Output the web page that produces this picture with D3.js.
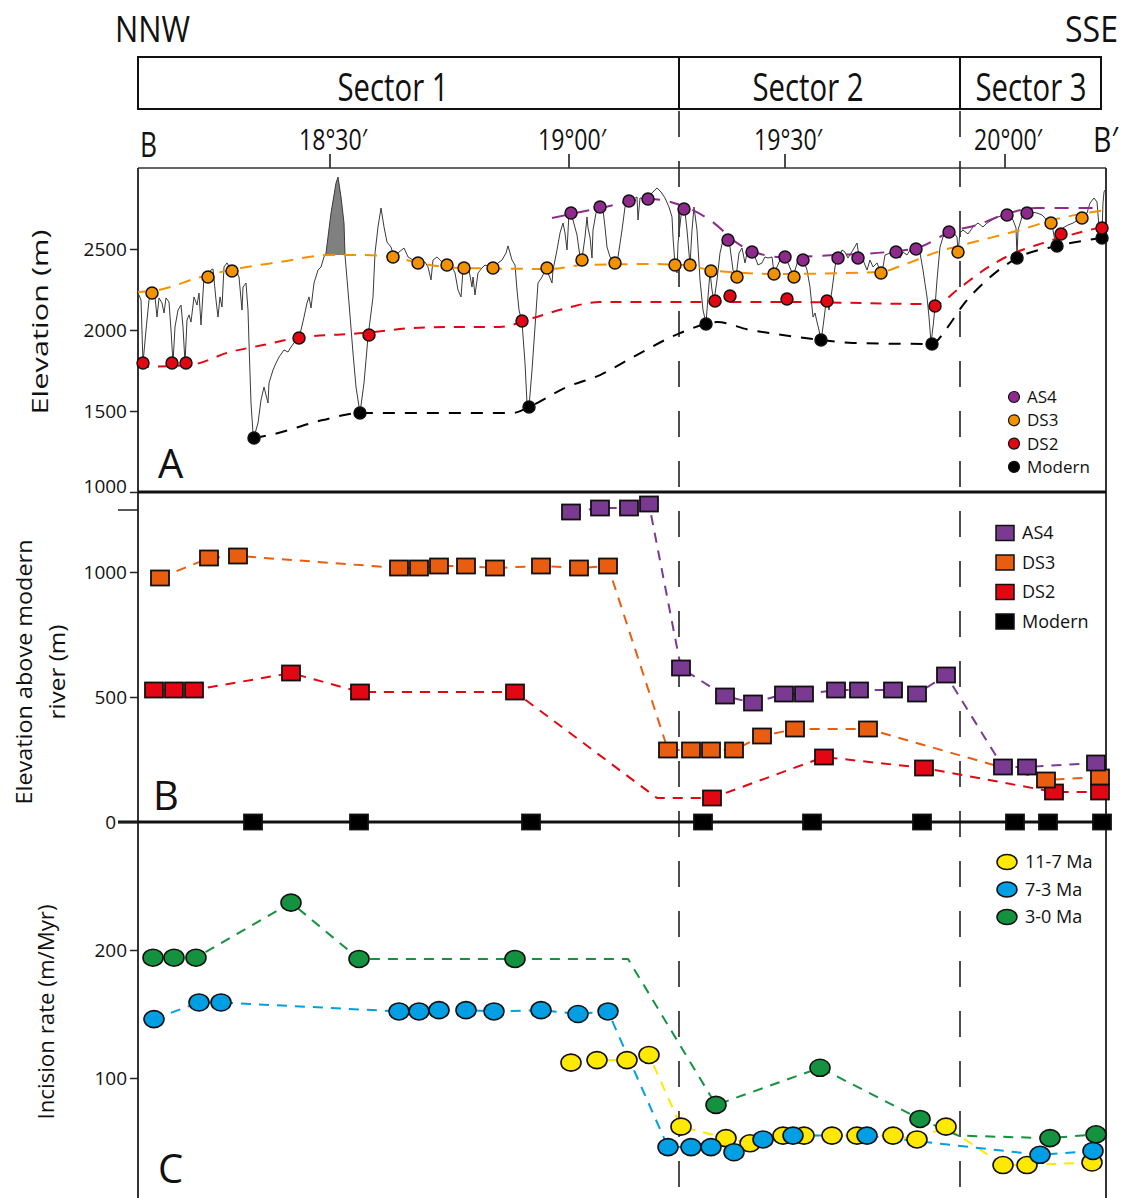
<!DOCTYPE html>
<html>
<head>
<meta charset="utf-8">
<script src="https://cdn.jsdelivr.net/npm/d3@7"></script>
<style>
  body { margin: 0; background: #fff; }
  svg { display: block; }
</style>
</head>
<body>
<div id="chart"></div>
<script>
// ---- data (distance along profile in km, values in m or m/Myr) ----
var sectorNames = ["Sector 1", "Sector 2", "Sector 3"];
var sectorBounds = [0, 135.25, 205.5, 240.75];
var lonTicks = [48, 107.75, 161.75, 216.75];
var lonLabels = ["18°30′", "19°00′", "19°30′", "20°00′"];

// panel A: topographic profile
var profile = [[0.25,2216],[0.75,2185],[1.25,1796],[2,2000],[2.75,2185],[3.5,2228],[4.25,2204],[4.75,2080],[5.25,2198],[6,2167],[6.5,2105],[7,2198],[7.75,2173],[8.25,2000],[8.75,1796],[9.25,2019],[10,2123],[10.75,2154],[11.25,2019],[11.75,1796],[12.25,2062],[12.75,2093],[13.25,2049],[14,2204],[14.75,2154],[15.25,2228],[15.75,2031],[16.5,2327],[17.5,2340],[18.25,2370],[18.75,2377],[19.5,2185],[20,2080],[20.5,2204],[21,2142],[21.5,2389],[22.25,2414],[23.25,2370],[24.5,2370],[25.25,2327],[26,2123],[26.25,2265],[27,2290],[27.5,2123],[27.75,1920],[28.25,1549],[28.75,1364],[29,1340],[30,1426],[30.75,1568],[31.5,1648],[32.5,1549],[32.75,1673],[33.75,1753],[34.5,1796],[35.25,1833],[36.5,1877],[37.5,1864],[38.25,1895],[39,1920],[40,1951],[40.75,2000],[41.5,2080],[42.25,2167],[42.75,2204],[43.25,2136],[44,2290],[45,2370],[45.75,2389],[46.5,2451],[47,2475],[48.25,2722],[49.5,2907],[50,2944],[50.75,2821],[51.5,2660],[51.75,2463],[52.75,2167],[53.75,1858],[54.5,1648],[55.5,1488],[56.5,1673],[57.5,1957],[58.75,2204],[59.25,2475],[60,2636],[60.75,2753],[61.5,2636],[62.25,2543],[63.25,2512],[64,2451],[65.25,2481],[66.5,2506],[67.5,2451],[68.75,2432],[70,2414],[71.75,2420],[72.5,2389],[73.25,2309],[73.75,2432],[74.75,2451],[76,2420],[77.25,2395],[78.5,2389],[79.25,2352],[80,2247],[80.75,2204],[81.25,2370],[82,2358],[82.75,2370],[83.5,2265],[83.75,2327],[84.25,2216],[85,2352],[86,2383],[86.75,2401],[88.75,2383],[90,2414],[91,2432],[92,2475],[92.5,2519],[93.5,2432],[94.25,2401],[94.75,2247],[95.25,2123],[96,2049],[96.75,1796],[97.25,1549],[97.75,1525],[98.5,1753],[99.25,2019],[100,2290],[101,2327],[102,2383],[102.5,2352],[103.5,2290],[103.75,2370],[104.75,2494],[105.5,2599],[106.25,2660],[106.75,2599],[107.25,2494],[107.75,2722],[108.75,2679],[109.75,2586],[110.5,2451],[111,2438],[111.75,2574],[112.25,2698],[112.5,2630],[113,2574],[113.5,2444],[113.75,2617],[114.5,2722],[115.25,2759],[116.25,2741],[116.75,2636],[117.25,2512],[118,2451],[119,2420],[120,2451],[121,2617],[121.75,2759],[122.5,2790],[123.5,2802],[124.75,2821],[125,2679],[125.5,2815],[127.25,2809],[128.5,2846],[129.75,2877],[130.75,2852],[131.75,2815],[132.75,2759],[133.5,2698],[133.75,2574],[134.25,2401],[134.75,2352],[135,2537],[136,2759],[136.5,2784],[137.25,2617],[138,2401],[138.5,2617],[139,2759],[139.75,2617],[140.5,2309],[141.25,2123],[142,2043],[142.5,2204],[143,2358],[143.5,2247],[144,2179],[144.75,2309],[145.5,2475],[146.25,2556],[147.25,2556],[148,2512],[148.75,2370],[149.5,2327],[150.25,2475],[151,2506],[151.75,2414],[152.25,2475],[153,2494],[153.5,2488],[154.25,2451],[155,2401],[156,2414],[156.75,2451],[157.5,2444],[158.5,2451],[159,2352],[159.75,2389],[160.5,2432],[161.25,2463],[161.75,2451],[162.5,2414],[163.25,2370],[163.75,2333],[164.5,2389],[165,2432],[166.25,2438],[167.25,2370],[168,2265],[168.75,2080],[169.25,2105],[169.75,2049],[170.25,2000],[170.75,1932],[171.25,2019],[172,2167],[172.25,2185],[172.75,2123],[173.5,2247],[174.25,2389],[174.75,2463],[175.25,2451],[176,2494],[176.75,2481],[177.5,2444],[178.75,2494],[179.75,2537],[180.25,2451],[181.25,2432],[182.25,2370],[183,2432],[183.75,2389],[184.75,2414],[185.75,2352],[186.25,2389],[186.75,2463],[188,2475],[189.5,2488],[190.5,2444],[191.25,2481],[192.25,2463],[193,2494],[194.5,2506],[195.5,2475],[196.25,2370],[197.25,2204],[197.75,2080],[198.25,1920],[198.75,2019],[199.25,2142],[199.75,2309],[200.5,2512],[201.25,2574],[202.5,2605],[203.75,2605],[204.75,2574],[205,2481],[205.5,2599],[206.25,2617],[207.5,2593],[208.75,2636],[210,2660],[211.25,2636],[212.25,2660],[213.5,2679],[215,2698],[217.25,2716],[218,2698],[218.75,2679],[219.5,2630],[219.75,2451],[220,2617],[221,2698],[222.25,2728],[223.5,2728],[224.75,2722],[226,2710],[226.75,2691],[227.5,2660],[228.25,2660],[228.75,2617],[229.5,2512],[230.5,2599],[231.25,2630],[232.5,2648],[233.75,2660],[235,2679],[236,2691],[237.25,2722],[238,2784],[239,2815],[239.75,2790],[240.25,2636],[241,2605],[241.25,2784],[241.5,2852],[241.75,2864]];

// panel A: terrace / river elevations (m)
var as4A = [[108.25,2722],[115.5,2759],[122.75,2796],[127.5,2809],[136.5,2747],[147.5,2556],[153.5,2481],[161.75,2451],[166.25,2432],[175,2444],[180,2444],[189.5,2481],[194.5,2500],[202.75,2605],[217.25,2710],[222.25,2722]];
var ds3A = [[3.5,2228],[17.5,2327],[23.5,2364],[63.75,2451],[70,2414],[77.25,2401],[81.5,2383],[88.75,2383],[102.25,2383],[111,2432],[119.25,2414],[134.25,2401],[138,2401],[143.25,2364],[149.75,2327],[159,2346],[164,2327],[185.75,2352],[205,2481],[228.25,2660],[236,2691]];
var ds2A = [[1.25,1796],[8.5,1796],[12,1796],[40.25,1951],[57.75,1969],[96,2056],[144.25,2179],[148,2210],[162.25,2191],[172.25,2179],[199.25,2148],[230.75,2593],[241,2630]];
var modernA = [[29,1333],[55.5,1488],[97.75,1525],[142,2037],[170.75,1938],[198.5,1914],[219.75,2444],[229.75,2519],[241,2568]];

// panel A: interpolated surfaces
var as4TrendA = [[103.5,2691],[115.5,2753],[128,2809],[135.5,2772],[143,2679],[150.5,2525],[160.5,2451],[174.75,2463],[187.25,2481],[195.5,2512],[203,2605],[209.75,2648],[216.25,2710],[224.75,2753],[241.25,2753]];
var ds3TrendA = [[0,2235],[6.25,2253],[14.75,2321],[23,2370],[35.5,2420],[48,2463],[56.25,2463],[64.75,2444],[73,2401],[80.5,2383],[103,2377],[111.25,2401],[128,2407],[136.25,2401],[144.75,2364],[160.5,2346],[185.5,2358],[191.25,2401],[199.75,2481],[208,2537],[220.5,2617],[228.75,2679],[242,2741]];
var ds2TrendA = [[0,1772],[13,1784],[23,1864],[31.25,1907],[39.75,1951],[56.25,1981],[68.75,2012],[80.5,2019],[90.5,2019],[98.75,2074],[107.25,2136],[115.5,2173],[128,2173],[160.5,2173],[199.75,2160],[204.75,2247],[212.25,2383],[218,2463],[224.75,2525],[233,2586],[242,2642]];
var modernTrendA = [[29,1333],[33,1352],[46.25,1444],[55.5,1488],[80.5,1488],[93.75,1488],[97.75,1525],[107.25,1648],[115.5,1722],[123.75,1833],[135.5,1981],[142,2037],[144.75,2049],[153,2000],[158,1981],[170.75,1938],[178.75,1920],[198.5,1914],[202.25,2012],[206.25,2154],[212.25,2309],[219.75,2444],[229.75,2519],[241,2568]];

// panel B: elevation above modern river (m); third value 0 = line knot only
var as4B = [[108.25,1240,1],[115.5,1256,1],[122.75,1256,1],[127.75,1272,1],[135.75,616,1],[146.75,504,1],[153.75,476,1],[161.5,512,1],[166.5,512,1],[174.5,528,1],[180.25,528,1],[188.75,528,1],[194.75,512,1],[202,588,1],[216.25,220,1],[222.25,220,1],[239.5,236,1]];
var ds3B = [[5.5,976,1],[17.75,1056,1],[25,1064,1],[65.25,1016,1],[70.25,1016,1],[75.25,1024,1],[82,1024,1],[89.25,1016,1],[100.75,1024,1],[110.25,1016,1],[117.5,1024,1],[132.5,288,1],[138.25,288,1],[143.25,288,1],[149,288,1],[156,344,1],[164.25,372,1],[182.5,372,1],[227,168,1],[240.5,180,1]];
var ds2B = [[4,528,1],[9,528,1],[14,528,1],[38.25,596,1],[55.5,520,1],[94.25,520,1],[129.75,96,0],[143.5,96,1],[171.5,260,1],[196.5,216,1],[229,120,1],[240.5,120,1]];
var modernB = [28.75, 55.25, 98.25, 141.25, 168.5, 196, 219.25, 227.5, 241];

// panel C: incision rate (m/Myr)
var rate11to7 = [[108.25,112,1],[114.75,114,1],[122.25,114,1],[127.75,118,1],[135.75,62,1],[147,53,1],[153,49,1],[161.25,55,1],[166.5,55,1],[173.5,55,1],[179.75,55,1],[188.75,55,1],[194.75,52,1],[202,62,1],[216.25,32,1],[222.25,32,1],[238.5,34,1]];
var rate7to3 = [[4,146,1],[15.25,159,1],[20.75,159,1],[65.25,152,1],[70.25,152,1],[75.25,153,1],[82,153,1],[89,152,1],[100.75,153,1],[110,150,1],[117.5,152,1],[132.5,46,1],[138.25,46,1],[143.25,46,1],[149,42,1],[156.25,52,1],[163.75,55,1],[182.25,55,1],[225.5,40,1],[238.75,43,1]];
var rate3to0 = [[3.75,194,1],[9,194,1],[14.5,194,1],[38.25,237,1],[55.25,193,1],[94.25,193,1],[122.5,193,0],[144.5,79,1],[170.5,108,1],[195.5,68,1],[205,55,0],[228,53,1],[239.5,56,1]];

var ticksA = [1000, 1500, 2000, 2500];
var ticksB = [0, 500, 1000, 1250];
var ticksC = [100, 200];

// ---- layout ----
var FONT = "'Open Sans', 'Noto Sans', sans-serif";
var width = 1125, height = 1198;

var svg = d3.select("#chart")
    .append("svg")
    .attr("width", width)
    .attr("height", height)
    .style("font-family", FONT);

var x = d3.scaleLinear().domain([0, 242]).range([138, 1106]);
var yA = d3.scaleLinear().domain([1000, 3000]).range([492, 168]);
var yB = d3.scaleLinear().domain([0, 1320]).range([822, 492]);
var yC = d3.scaleLinear().domain([0, 300]).range([1206, 822]);

var col = {
    as4A: "#8e2a8c", ds3A: "#f39200", ds2A: "#e30613", modern: "#000",
    as4B: "#7b3a92", ds3B: "#e85d0f", ds2B: "#e30613",
    yellow: "#ffe900", blue: "#009fe3", green: "#15923f"
};

// ---- header ----
function stretchText(txt, cx, y, len, size, anchor) {
    svg.append("text")
        .attr("x", cx).attr("y", y)
        .attr("text-anchor", anchor || "middle")
        .attr("font-size", size)
        .attr("textLength", len)
        .attr("lengthAdjust", "spacingAndGlyphs")
        .attr("fill", "#111")
        .text(txt);
}
stretchText("NNW", 115, 42, 75, 36, "start");
stretchText("SSE", 1118, 42, 53, 36, "end");

svg.append("rect")
    .attr("x", x(sectorBounds[0])).attr("y", 57)
    .attr("width", x(sectorBounds[3]) - x(sectorBounds[0])).attr("height", 52)
    .attr("fill", "none").attr("stroke", "#111").attr("stroke-width", 2);
sectorBounds.slice(1, 3).forEach(function (b) {
    svg.append("line").attr("x1", x(b)).attr("x2", x(b)).attr("y1", 57).attr("y2", 109)
        .attr("stroke", "#111").attr("stroke-width", 2);
});
var sectorCenters = [63.75, 167.5, 223.25];
sectorNames.forEach(function (s, i) {
    stretchText(s, x(sectorCenters[i]), 101, 111, 38);
});

// longitude labels
stretchText("B", 140, 157, 17, 34, "start");
stretchText("B′", 1118, 152, 25, 34, "end");
lonTicks.forEach(function (t, i) {
    stretchText(lonLabels[i], x(t) + 3, 150, 68, 30);
    svg.append("line").attr("x1", x(t)).attr("x2", x(t)).attr("y1", 154).attr("y2", 168)
        .attr("stroke", "#111").attr("stroke-width", 1.5);
});

// ---- frames ----
svg.append("line").attr("x1", x(0)).attr("x2", x(242)).attr("y1", 168).attr("y2", 168)
    .attr("stroke", "#333").attr("stroke-width", 1.5);
svg.append("line").attr("x1", x(0)).attr("x2", x(0)).attr("y1", 168).attr("y2", height)
    .attr("stroke", "#333").attr("stroke-width", 2);
svg.append("line").attr("x1", x(242)).attr("x2", x(242)).attr("y1", 168).attr("y2", height)
    .attr("stroke", "#333").attr("stroke-width", 2);
svg.append("line").attr("x1", x(0)).attr("x2", x(242)).attr("y1", yA(1000)).attr("y2", yA(1000))
    .attr("stroke", "#111").attr("stroke-width", 3);

// sector dividers
sectorBounds.slice(1, 3).forEach(function (b) {
    svg.append("line").attr("x1", x(b)).attr("x2", x(b)).attr("y1", 111).attr("y2", height)
        .attr("stroke", "#222").attr("stroke-width", 1.6)
        .attr("stroke-dasharray", "26,24");
});

// ---- panel A ----
function trendAt(nodes, k) {
    var i = Math.max(1, Math.min(nodes.length - 1, d3.bisectLeft(nodes.map(function (n) { return n[0]; }), k)));
    var a = nodes[i - 1], b = nodes[i];
    return a[1] + (b[1] - a[1]) * (k - a[0]) / (b[0] - a[0]);
}

var peak = profile.filter(function (p) { return p[0] >= 47 && p[0] <= 51.75; });
svg.append("path")
    .datum(peak)
    .attr("fill", "#808080")
    .attr("d", d3.area()
        .x(function (d) { return x(d[0]); })
        .y0(function (d) { return yA(trendAt(ds3TrendA, d[0])); })
        .y1(function (d) { return yA(d[1]); }));

svg.append("path")
    .datum(profile)
    .attr("fill", "none").attr("stroke", "#3a3a3a").attr("stroke-width", 1)
    .attr("d", d3.line().x(function (d) { return x(d[0]); }).y(function (d) { return yA(d[1]); }));

var trendLine = d3.line()
    .curve(d3.curveMonotoneX)
    .x(function (d) { return x(d[0]); })
    .y(function (d) { return yA(d[1]); });

[[modernTrendA, col.modern, "12,10"], [ds2TrendA, col.ds2A, "11,9"],
 [ds3TrendA, col.ds3A, "12,9"], [as4TrendA, col.as4A, "14,10"]].forEach(function (t) {
    svg.append("path").datum(t[0])
        .attr("fill", "none").attr("stroke", t[1]).attr("stroke-width", 2)
        .attr("stroke-dasharray", t[2]).attr("d", trendLine);
});

[[modernA, col.modern], [ds2A, col.ds2A], [ds3A, col.ds3A], [as4A, col.as4A]].forEach(function (s) {
    svg.append("g").selectAll("circle").data(s[0]).enter().append("circle")
        .attr("cx", function (d) { return x(d[0]); })
        .attr("cy", function (d) { return yA(d[1]); })
        .attr("r", 6)
        .attr("fill", s[1]).attr("stroke", "#111").attr("stroke-width", 1.5);
});

// legend A
var legA = [["AS4", col.as4A], ["DS3", col.ds3A], ["DS2", col.ds2A], ["Modern", col.modern]];
legA.forEach(function (l, i) {
    var yy = 397 + i * 23.3;
    svg.append("circle").attr("cx", 1014).attr("cy", yy).attr("r", 5.5)
        .attr("fill", l[1]).attr("stroke", "#111").attr("stroke-width", 1.2);
    svg.append("text").attr("x", 1027).attr("y", yy).attr("dy", "0.35em")
        .attr("font-size", 17).attr("fill", "#111").text(l[0]);
});

// ---- panel B ----
svg.append("line").attr("x1", x(0) - 20).attr("x2", x(242)).attr("y1", yB(0)).attr("y2", yB(0))
    .attr("stroke", "#111").attr("stroke-width", 3);

var lineB = d3.line()
    .x(function (d) { return x(d[0]); })
    .y(function (d) { return yB(d[1]); });

[[ds2B, col.ds2B], [ds3B, col.ds3B], [as4B, col.as4B]].forEach(function (s) {
    svg.append("path").datum(s[0])
        .attr("fill", "none").attr("stroke", s[1]).attr("stroke-width", 2)
        .attr("stroke-dasharray", "10,8").attr("d", lineB);
});

function squares(data, fill, yv) {
    svg.append("g").selectAll("rect").data(data).enter().append("rect")
        .attr("x", function (d) { return x(d[0]) - 9; })
        .attr("y", function (d) { return yv(d) - 7.5; })
        .attr("width", 18).attr("height", 15)
        .attr("fill", fill).attr("stroke", "#111").attr("stroke-width", 1.8);
}
squares(modernB.map(function (k) { return [k, 0, 1]; }), "#000", function (d) { return yB(d[1]); });
[[ds2B, col.ds2B], [ds3B, col.ds3B], [as4B, col.as4B]].forEach(function (s) {
    squares(s[0].filter(function (d) { return d[2]; }), s[1], function (d) { return yB(d[1]); });
});

var legB = [["AS4", col.as4B], ["DS3", col.ds3B], ["DS2", col.ds2B], ["Modern", "#000"]];
legB.forEach(function (l, i) {
    var yy = 533 + i * 29.5;
    svg.append("rect").attr("x", 996).attr("y", yy - 7.5).attr("width", 18).attr("height", 15)
        .attr("fill", l[1]).attr("stroke", "#111").attr("stroke-width", 1.5);
    svg.append("text").attr("x", 1022).attr("y", yy).attr("dy", "0.35em")
        .attr("font-size", 18).attr("fill", "#111").text(l[0]);
});

// ---- panel C ----
var lineC = d3.line()
    .x(function (d) { return x(d[0]); })
    .y(function (d) { return yC(d[1]); });

var seriesC = [[rate11to7, col.yellow], [rate7to3, col.blue], [rate3to0, col.green]];
seriesC.forEach(function (s) {
    svg.append("path").datum(s[0])
        .attr("fill", "none").attr("stroke", s[1]).attr("stroke-width", 2)
        .attr("stroke-dasharray", "10,8").attr("d", lineC);
});
seriesC.forEach(function (s) {
    svg.append("g").selectAll("ellipse").data(s[0].filter(function (d) { return d[2]; }))
        .enter().append("ellipse")
        .attr("cx", function (d) { return x(d[0]); })
        .attr("cy", function (d) { return yC(d[1]); })
        .attr("rx", 10).attr("ry", 8.5)
        .attr("fill", s[1]).attr("stroke", "#111").attr("stroke-width", 1.6);
});

var legC = [["11-7 Ma", col.yellow], ["7-3 Ma", col.blue], ["3-0 Ma", col.green]];
legC.forEach(function (l, i) {
    var yy = 862 + i * 27.5;
    svg.append("ellipse").attr("cx", 1007).attr("cy", yy).attr("rx", 10).attr("ry", 7.5)
        .attr("fill", l[1]).attr("stroke", "#111").attr("stroke-width", 1.5);
    svg.append("text").attr("x", 1025).attr("y", yy).attr("dy", "0.35em")
        .attr("font-size", 18).attr("fill", "#111").text(l[0]);
});

// ---- axes ----
function leftAxis(scale, ticks, fmt) {
    var g = svg.append("g")
        .attr("transform", "translate(" + x(0) + ",0)")
        .call(d3.axisLeft(scale).tickValues(ticks).tickSize(8).tickPadding(3).tickFormat(fmt));
    g.select(".domain").remove();
    g.attr("font-family", FONT).attr("font-size", 19);
    g.selectAll(".tick line").attr("stroke", "#222").attr("stroke-width", 1.5);
    g.selectAll(".tick text").attr("fill", "#111");
    return g;
}
var axA = leftAxis(yA, ticksA, d3.format("d"));
axA.selectAll(".tick").filter(function (d) { return d === 1000; }).select("text").attr("dy", "0.05em");
var axB = leftAxis(yB, ticksB, function (d) { return d === 1250 ? "" : d; });
axB.selectAll(".tick").filter(function (d) { return d === 0 || d === 1250; }).select("line").attr("x2", -20);
axB.selectAll(".tick").filter(function (d) { return d === 0; }).select("text").attr("x", -22);
leftAxis(yC, ticksC, d3.format("d"));

// axis titles
function yTitle(txt, cx, cy, len) {
    svg.append("text")
        .attr("transform", "translate(" + cx + "," + cy + ") rotate(-90)")
        .attr("text-anchor", "middle").attr("dy", "0.35em")
        .attr("font-size", 22).attr("fill", "#111")
        .attr("textLength", len).attr("lengthAdjust", "spacingAndGlyphs")
        .text(txt);
}
yTitle("Elevation (m)", 40, 322, 185);
yTitle("Elevation above modern", 24, 672, 265);
yTitle("river (m)", 57, 672, 95);
yTitle("Incision rate (m/Myr)", 46, 1012, 215);

// panel letters
[["A", 158, 478], ["B", 153, 810], ["C", 158, 1183]].forEach(function (p) {
    svg.append("text").attr("x", p[1]).attr("y", p[2])
        .attr("font-size", 40).attr("fill", "#111").text(p[0]);
});
</script>
</body>
</html>
